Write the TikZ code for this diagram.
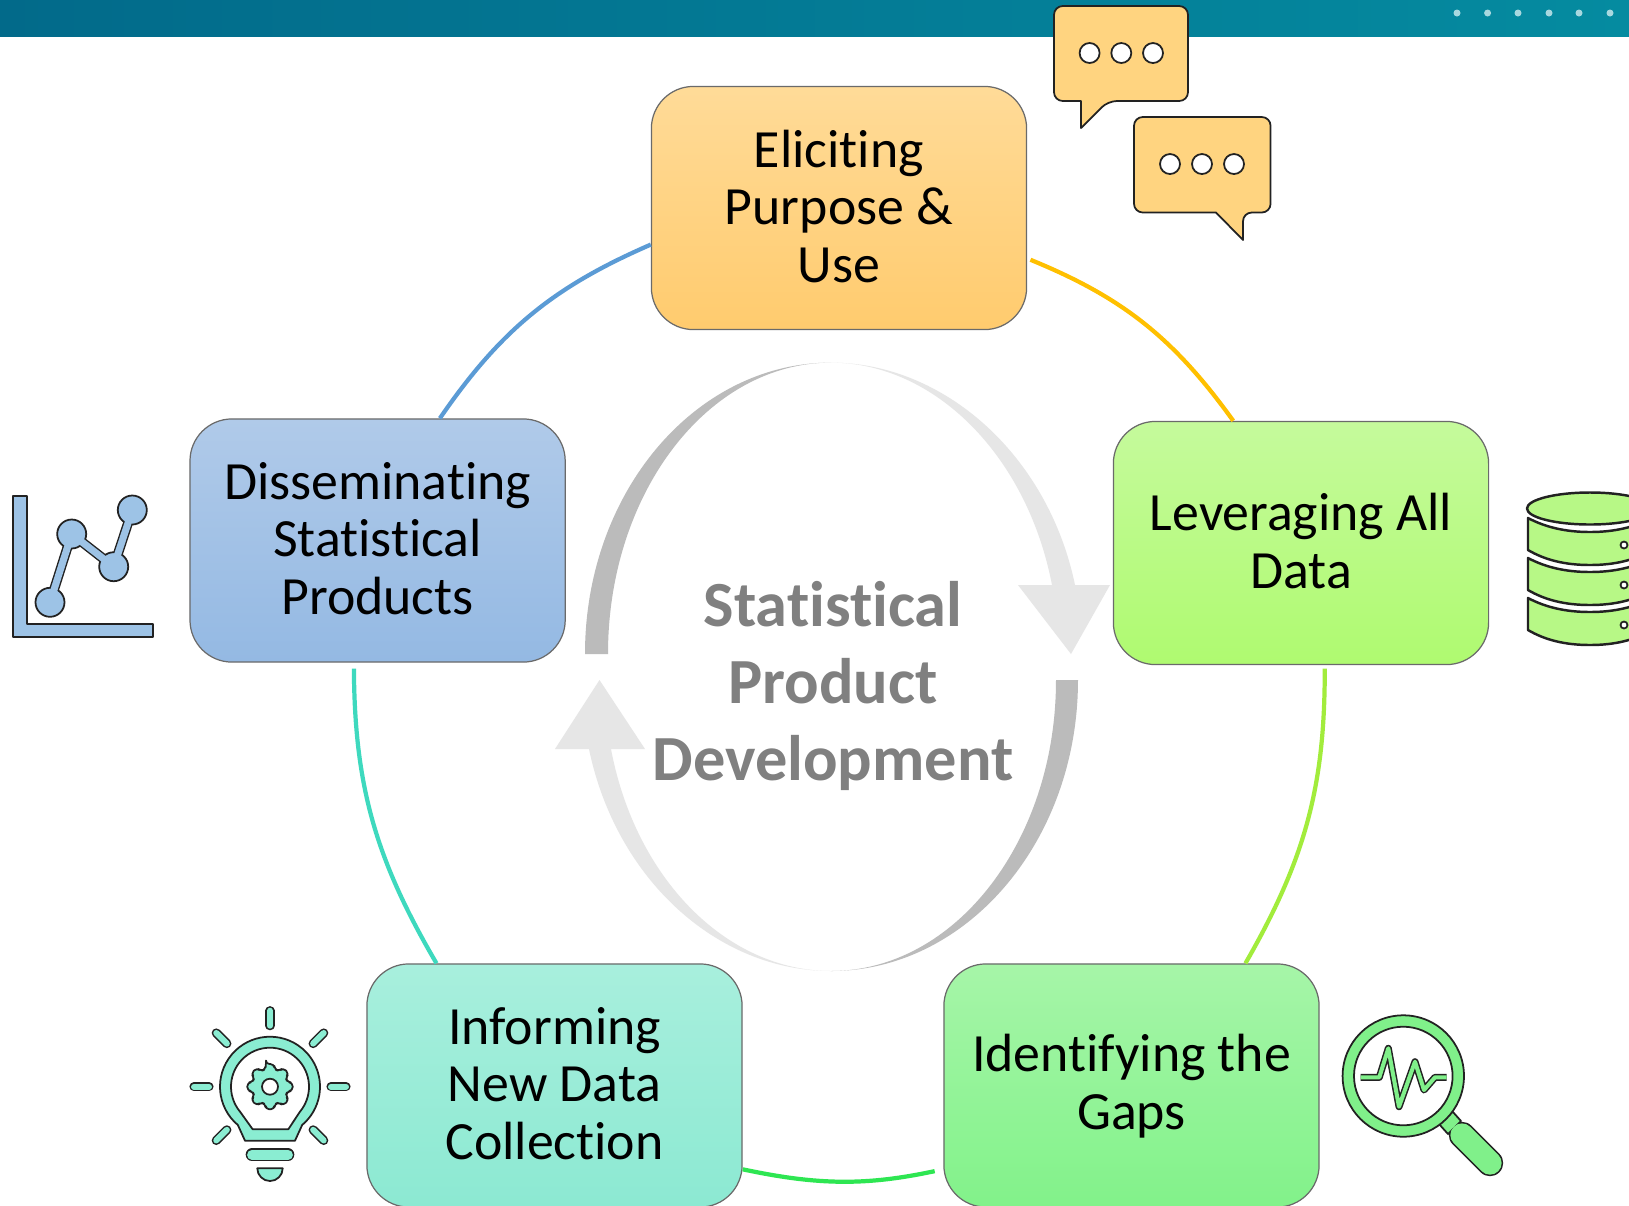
\documentclass[tikz,border=0pt]{standalone}
\usepackage{fontspec}
\setmainfont{Carlito}[Ligatures=NoCommon]
\definecolor{edgegray}{HTML}{6A6A6A}
\definecolor{icondark}{HTML}{222222}
\definecolor{ordfill}{HTML}{FFD480}
\definecolor{chartfill}{HTML}{9DC3E6}
\definecolor{bulbfill}{HTML}{8AEDD2}
\definecolor{lensfill}{HTML}{80F08A}
\definecolor{diskfill}{HTML}{B7F886}
\definecolor{ringdark}{HTML}{BBBBBB}
\definecolor{ringlight}{HTML}{E6E6E6}
\definecolor{barleft}{HTML}{026A8A}
\definecolor{barmid}{HTML}{007A94}
\definecolor{barright}{HTML}{058BA0}
\definecolor{bardot}{HTML}{A8D8DF}
\definecolor{elicittop}{HTML}{FFDB98}
\definecolor{elicitbot}{HTML}{FFCB6E}
\definecolor{dissemtop}{HTML}{B0CAE9}
\definecolor{dissembot}{HTML}{94B9E3}
\definecolor{levertop}{HTML}{C5FA9C}
\definecolor{leverbot}{HTML}{AFFA70}
\definecolor{informtop}{HTML}{A8EFDD}
\definecolor{informbot}{HTML}{8CE9D2}
\definecolor{gapstop}{HTML}{A6F5A8}
\definecolor{gapsbot}{HTML}{82F28A}
\definecolor{linkblue}{HTML}{5B9BD5}
\definecolor{linkorange}{HTML}{FFC000}
\definecolor{linklime}{HTML}{A2EC3C}
\definecolor{linkgreen}{HTML}{2EE652}
\definecolor{linkteal}{HTML}{3ED9BE}
\tikzset{
  stagebox/.style={draw=edgegray, line width=.35pt, rounded corners=.42cm, minimum width=3.75cm,
    minimum height=2.43cm, inner sep=0pt, align=center, text depth=1.2pt, font=\fontsize{15.3}{16.35}\selectfont},
  linkline/.style={line width=1.2pt},
  iconedge/.style={draw=icondark, line width=.5pt, line join=round},
}
\begin{document}
\begin{tikzpicture}[x=.01cm, y=-.01cm]
  \useasboundingbox (0,0) rectangle (1629,1205);
  \clip (0,0) rectangle (1629,1205);
  \fill[white] (0,0) rectangle (1629,1205);
  \shade[left color=barleft, middle color=barmid, right color=barright] (0,0) rectangle (1629,36);
  \foreach \x in {1457,1487.6,1518,1549,1579,1610}{
    \fill[bardot] (\x,13) circle (3.5);
  }
  % boxes
  \node[stagebox, top color=elicittop, bottom color=elicitbot] (elicit) at (839,208) {Eliciting\\Purpose \&\\Use};
  \node[stagebox, top color=dissemtop, bottom color=dissembot] (disseminate) at (377.6,540.5) {Disseminating\\Statistical\\Products};
  \node[stagebox, top color=levertop, bottom color=leverbot] (leverage) at (1301,543) {Leveraging All\\Data};
  \node[stagebox, top color=informtop, bottom color=informbot] (inform) at (554.5,1085.5) {Informing\\New Data\\Collection};
  \node[stagebox, text depth=2pt, top color=gapstop, bottom color=gapsbot] (gaps) at (1131.5,1085.5) {Identifying the\\Gaps};
  % links
  \draw[linkline, linkblue] (disseminate.63) to[bend left=16] (elicit.191);
  \draw[linkline, linkorange, shorten <=1pt] (elicit.-15) to[bend left=16] (leverage.119);
  \draw[linkline, linklime, shorten <=1pt] (leverage.-79) to[bend left=15] (gaps.47);
  \draw[linkline, linkgreen, shorten <=2.5pt] (gaps.204) to[bend left=12] (inform.-24);
  \draw[linkline, linkteal, shorten >=1.7pt] (inform.134) to[bend left=15] (disseminate.259);
  % center ring
  \fill[ringdark] (585,654) .. controls (585,493) and (695,362.6) .. (831,362.6)
    .. controls (708,362.6) and (608,493) .. (608,654) -- cycle;
  \fill[ringlight] (831,362.6) .. controls (944,362.6) and (1048,455) .. (1075,585) -- (1110,585) -- (1071,654)
    -- (1018,585) -- (1052,585) .. controls (1027,455) and (934,362.6) .. (831,362.6) -- cycle;
  \fill[ringdark] (1078,680) .. controls (1078,841) and (967,971) .. (831,971)
    .. controls (955,971) and (1056,841) .. (1056,680) -- cycle;
  \fill[ringlight] (831,971) .. controls (717,971) and (616,879) .. (589,749) -- (555,749) -- (599.5,680)
    -- (645,749) -- (611,749) .. controls (635.5,879) and (727,971) .. (831,971) -- cycle;
  \node[text=black!50, font=\fontsize{18.3}{22}\selectfont\bfseries, align=center, inner sep=0pt] (product) at (833,686) {Statistical\\Product\\Development};
  % speech bubbles
  \draw[iconedge, fill=ordfill, rounded corners=2.5] (1054,6) -- (1188,6) -- (1188,101) -- (1108,101)
    [sharp corners] -- (1081,128) -- (1081,101) [rounded corners=2.5] -- (1054,101) -- cycle;
  \foreach \x in {1089.6,1121.3,1153}{
    \draw[iconedge, fill=white] (\x,53) circle (10);
  }
  \draw[iconedge, fill=ordfill, rounded corners=2.5] (1134,117) -- (1270.6,117) -- (1270.6,212.5) -- (1243,212.5)
    [sharp corners] -- (1243,240) -- (1216,212.5) [rounded corners=2.5] -- (1134,212.5) -- cycle;
  \foreach \x in {1170,1202,1234}{
    \draw[iconedge, fill=white] (\x,164) circle (10);
  }
  % chart
  \draw[iconedge, fill=chartfill] (13.3,495.7) -- (26.7,495.7) -- (26.7,624.3) -- (152.7,624.3) -- (152.7,636.7) -- (13.3,636.7) -- cycle;
  \draw[icondark, line width=2.8pt, line join=round] (50,602.3) -- (71.7,534) -- (113.7,566.7) -- (132.3,510);
  \foreach \x/\y in {50/602.3,71.7/534,113.7/566.7,132.3/510}{
    \draw[iconedge, fill=chartfill] (\x,\y) circle (14.5);
  }
  \draw[chartfill, line width=2pt, line join=round] (50,602.3) -- (71.7,534) -- (113.7,566.7) -- (132.3,510);
  % bulb
  \begin{scope}[shift={(270,1086.7)}]
    \foreach \a in {0,45,135,180,225,270,315}{
      \draw[icondark, line width=2.6pt, line cap=round] (\a:61) -- (\a:76);
      \draw[bulbfill, line width=1.7pt, line cap=round] (\a:61) -- (\a:76);
    }
    \draw[iconedge, fill=bulbfill, even odd rule] (-25,54) -- (130:50) arc (130:410:50) -- (25,54) -- cycle
      (-17.3,42.6) -- (140:39) arc (140:400:39) -- (18.3,42.6) -- cycle;
    \draw[iconedge, fill=bulbfill, rounded corners=1] (-100:23)
      \foreach \a in {-90,-45,...,225}{ -- (\a-10:23) -- (\a+10:23) -- (\a+15:18) -- (\a+30:18)} -- cycle;
    \draw[iconedge, fill=white] (0,0) circle (8);
    \draw[icondark, line width=3.6pt, line cap=round] (-18,68) -- (18,68);
    \draw[bulbfill, line width=2.8pt, line cap=round] (-18,68) -- (18,68);
    \draw[iconedge, fill=bulbfill] (-12.7,81.6) -- (12.7,81.6) arc (0:180:12.7) -- cycle;
  \end{scope}
  % lens
  \draw[icondark, line width=7.5pt, line cap=round] (1462,1135) -- (1490,1163);
  \draw[iconedge, fill=lensfill] (1452.7,1111.7) -- (1461,1121) -- (1448,1134) -- (1439,1124) -- cycle;
  \draw[lensfill, line width=6.6pt, line cap=round] (1462,1135) -- (1490,1163);
  \draw[iconedge, fill=lensfill, even odd rule] (1403.3,1076) circle (60.7) (1403.3,1076) circle (49.3);
  \draw[icondark, line width=2pt, line join=round] (1360.7,1077.3) -- (1379.3,1077.3) -- (1388.3,1048.3) -- (1399,1106.7)
    -- (1415,1061.7) -- (1424,1090) -- (1435,1077.3) -- (1446.7,1077.3);
  \draw[lensfill, line width=1.15pt, line join=round] (1360.7,1077.3) -- (1379.3,1077.3) -- (1388.3,1048.3) -- (1399,1106.7)
    -- (1415,1061.7) -- (1424,1090) -- (1435,1077.3) -- (1446.7,1077.3);
  % disks
  \foreach \y in {0,40,80}{
    \draw[iconedge, fill=diskfill, line width=.7pt] (1528,518+\y) .. controls (1545,527+\y) and (1565,532+\y) .. (1590,532+\y)
      .. controls (1615,532+\y) and (1635,527+\y) .. (1652,518+\y) -- (1652,550+\y)
      .. controls (1635,560+\y) and (1615,565+\y) .. (1590,565+\y)
      .. controls (1565,565+\y) and (1545,560+\y) .. (1528,550+\y) -- cycle;
    \draw[iconedge, fill=white] (1624,545+\y) circle (3.5);
  }
  \draw[iconedge, fill=diskfill, line width=.7pt] (1590,508.5) ellipse [x radius=63, y radius=16];
\end{tikzpicture}
\end{document}
